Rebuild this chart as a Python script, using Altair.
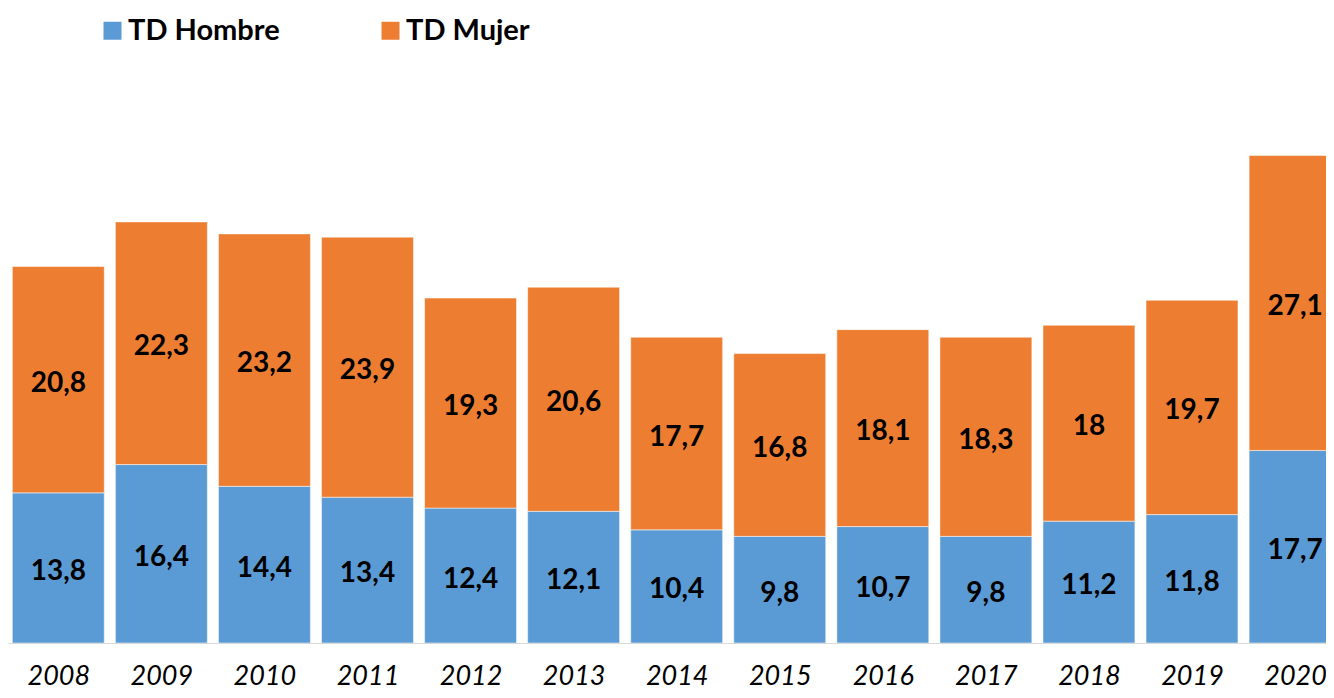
import altair as alt
import pandas as pd

years = ["2008", "2009", "2010", "2011", "2012", "2013", "2014",
         "2015", "2016", "2017", "2018", "2019", "2020"]
hombre = [13.8, 16.4, 14.4, 13.4, 12.4, 12.1, 10.4, 9.8, 10.7, 9.8, 11.2, 11.8, 17.7]
mujer = [20.8, 22.3, 23.2, 23.9, 19.3, 20.6, 17.7, 16.8, 18.1, 18.3, 18.0, 19.7, 27.1]
series = ["TD Hombre", "TD Mujer"]
colors = ["#5B9BD5", "#ED7D31"]


def fmt(v):
    return f"{v:g}".replace(".", ",")


rows = []
for i, y in enumerate(years):
    rows.append({"idx": i, "year": y, "serie": series[0], "ord": 0, "value": hombre[i], "label": fmt(hombre[i])})
    rows.append({"idx": i, "year": y, "serie": series[1], "ord": 1, "value": mujer[i], "label": fmt(mujer[i])})
df = pd.DataFrame(rows)

FONT = "Lato"
HALF = 0.446  # half bar width, in category units

year_expr = "[" + ",".join(f"'{y}'" for y in years) + "][datum.value]"

x_scale = alt.Scale(domain=[-0.488, 12.30], nice=False, zero=False)
x_axis = alt.Axis(
    values=list(range(len(years))), labelExpr=year_expr,
    labelFont=FONT, labelFontSize=27, labelFontStyle="italic", labelColor="#000000",
    labelAngle=0, ticks=False, grid=False, labelPadding=41, domainColor="#D9D9D9", domainWidth=1,
    labelBaseline="alphabetic", labelFlush=False, labelOverlap=False,
)
y_scale = alt.Scale(domain=[0, 58.36], nice=False, zero=True)

base = alt.Chart(df).transform_stack(
    stack="value", groupby=["year"], as_=["y0", "y1"], sort=[alt.SortField("ord", order="ascending")]
).transform_calculate(
    mid="(datum.y0 + datum.y1) / 2",
    xl=f"datum.idx - {HALF}",
    xr=f"datum.idx + {HALF}",
)

bars = base.mark_bar(clip=True, stroke="#FFFFFF", strokeWidth=0.5).encode(
    x=alt.X("xl:Q", scale=x_scale, axis=x_axis, title=None),
    x2="xr:Q",
    y=alt.Y("y0:Q", scale=y_scale, axis=None),
    y2="y1:Q",
    color=alt.Color(
        "serie:N",
        scale=alt.Scale(domain=series, range=colors),
        legend=alt.Legend(
            orient="none", legendX=90, legendY=8, direction="horizontal", title=None,
            symbolType="square", symbolSize=324, symbolStrokeWidth=0,
            labelFont=FONT, labelFontSize=29, labelFontWeight="bold", labelColor="#000000",
            labelOffset=1, columnPadding=96, padding=0, labelLimit=400,
        ),
    ),
)

labels = base.mark_text(font=FONT, fontSize=28, fontWeight="bold", color="#000000",
                        baseline="middle", dy=4).encode(
    x=alt.X("idx:Q", scale=x_scale),
    y=alt.Y("mid:Q", scale=y_scale),
    text="label:N",
)

chart = alt.layer(bars, labels).properties(
    width=1318, height=635,
    autosize=alt.AutoSizeParams(type="none"),
    padding={"left": 0, "top": 0, "right": 0, "bottom": 47},
    background="#FFFFFF",
).configure_view(strokeWidth=0)

chart.save("out.html", embed_options={"renderer": "svg", "actions": False})
